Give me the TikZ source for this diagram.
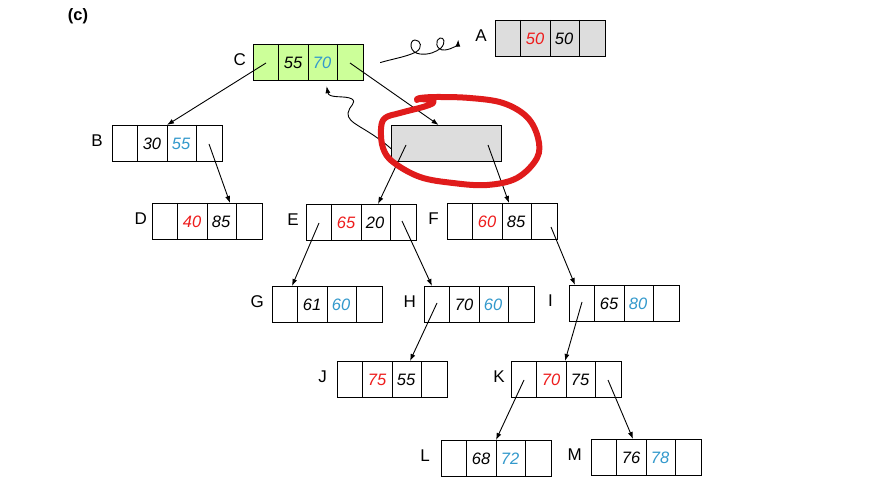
\documentclass[tikz,border=0pt]{standalone}
\usepackage{fontspec}
\setmainfont{Liberation Sans}
\usetikzlibrary{arrows.meta,positioning,calc}
\definecolor{keyred}{HTML}{EE1C1C}
\definecolor{keyblue}{HTML}{3399CC}
\definecolor{rootgreen}{HTML}{CCFF99}
\definecolor{nodegray}{HTML}{DDDDDD}
\definecolor{penred}{HTML}{E01B1B}
\tikzset{
  keybox/.style={draw, line width=1.2pt, minimum width=110pt,
    minimum height=36pt, inner sep=0pt, anchor=north west},
  divline/.style={line width=1pt},
  keytxt/.style={font=\fontsize{16.5}{16.5}\selectfont\itshape, inner sep=0pt},
  lbl/.style={font=\fontsize{17}{17}\selectfont, inner sep=0pt, yshift=3pt},
  ptr/.style={-{Latex[length=7pt,width=5pt]}, line width=0.9pt},
}
\newcommand{\kr}[1]{\textcolor{keyred}{#1}}
\newcommand{\kb}[1]{\textcolor{keyblue}{#1}}
% name, x, y, fill, first key, second key
\newcommand{\btbox}[6]{%
  \node[keybox, fill=#4] (#1) at (#2,#3) {};
  \foreach \d in {25,55,84}
    \draw[divline] ($(#1.north west)+(\d,0)$) -- ($(#1.south west)+(\d,0)$);
  \node[keytxt] at ($(#1.north west)+(40,19)$) {#5};
  \node[keytxt] at ($(#1.north west)+(69,19)$) {#6};
  \coordinate (#1-l) at ($(#1.north west)+(13,19)$);
  \coordinate (#1-r) at ($(#1.north west)+(97,19)$);
}

\begin{document}
\begin{tikzpicture}[x=1pt, y=-1pt]
  \useasboundingbox (0,0) rectangle (883,478);

  \node[font=\fontsize{16.5}{16.5}\selectfont\bfseries] (tag) at (78,16) {(c)};

  % boxes
  \btbox{A}{495}{20}{nodegray}{\kr{50}}{50}
  \btbox{C}{253}{44}{rootgreen}{55}{\kb{70}}
  \btbox{B}{112}{125}{white}{30}{\kb{55}}
  \btbox{D}{152}{203}{white}{\kr{40}}{85}
  \btbox{E}{306}{204}{white}{\kr{65}}{20}
  \btbox{F}{447}{203}{white}{\kr{60}}{85}
  \btbox{G}{272}{286}{white}{61}{\kb{60}}
  \btbox{H}{424}{286}{white}{70}{\kb{60}}
  \btbox{I}{569}{285}{white}{65}{\kb{80}}
  \btbox{J}{337}{361}{white}{\kr{75}}{55}
  \btbox{K}{511}{361}{white}{\kr{70}}{75}
  \btbox{L}{441}{440}{white}{68}{\kb{72}}
  \btbox{M}{591}{439}{white}{76}{\kb{78}}
  \node[keybox, fill=nodegray] (new) at (391,125) {};

  % labels
  \node[lbl, left=8pt of A] (Alab) {A};
  \node[lbl, left=7pt of C] {C};
  \node[lbl, left=9pt of B] {B};
  \node[lbl, left=5pt of D] {D};
  \node[lbl, left=7pt of E] {E};
  \node[lbl, left=8pt of F] {F};
  \node[lbl, left=8pt of G] {G};
  \node[lbl, left=8pt of H] {H};
  \node[lbl, left=16pt of I] {I};
  \node[lbl, left=10pt of J] {J};
  \node[lbl, left=6pt of K] {K};
  \node[lbl, left=11pt of L] {L};
  \node[lbl, left=9pt of M] {M};

  % pointers
  \draw[ptr] (C-l) -- ($(B.north west)+(55,0)$);
  \draw[ptr] (C-r) -- ($(new.north)+(-8,0)$);
  \draw[ptr] (B-r) -- ($(D.north west)+(78,0)$);
  \draw[ptr] ($(new.north west)+(15,20)$) -- ($(E.north west)+(72,0)$);
  \draw[ptr] ($(new.north west)+(97,20)$) -- ($(F.north west)+(62,0)$);
  \draw[ptr] (E-l) -- ($(G.north west)+(20,0)$);
  \draw[ptr] ($(E.north west)+(96,17)$) -- ($(H.north west)+(8,0)$);
  \draw[ptr] ($(F.north west)+(104,24)$) -- ($(I.north west)+(6,0)$);
  \draw[ptr] ($(H.north west)+(13,17)$) -- ($(J.north west)+(73,0)$);
  \draw[ptr] ($(I.north west)+(13,17)$) -- ($(K.north west)+(54,0)$);
  \draw[ptr] (K-l) -- ($(L.north west)+(55,0)$);
  \draw[ptr] (K-r) -- ($(M.north west)+(42,0)$);

  % squiggle to A
  \coordinate (sq) at ($(C.east)+(16,0)$);
  \draw[ptr] (sq) .. controls (392,59) and (406,57) .. (416,52)
    .. controls (423,48) and (421,40) .. (415,40)
    .. controls (409,40) and (409,53) .. (420,54)
    .. controls (429,55) and (436,52) .. (441,48)
    .. controls (446,43) and (444,37) .. (440,38)
    .. controls (435,39) and (435,51) .. (445,50)
    .. controls (453,49) and (458,44) .. ($(Alab.west)+(-17,4)$);

  % curly pointer back to C
  \draw[ptr] ($(new.west)+(0,5)$) .. controls (365,126) and (347,124) .. (348,113)
    .. controls (349,106) and (357,103) .. (352,99)
    .. controls (345,95) and (329,99) .. ($(C.south)+(18,5)$);

  % red pen mark
  \draw[penred, line width=6pt, line cap=round, line join=round]
    plot[smooth, tension=0.6] coordinates {(417,99) (431,100) (433,103)
      (423,107) (400,113) (385,118) (381,129) (383,148) (393,162)
      (420,177) (453,183) (487,185) (517,178) (537,158) (538,138)
      (527,117) (503,103) (470,98) (437,97) (420,98) (417,100)};
\end{tikzpicture}
\end{document}
